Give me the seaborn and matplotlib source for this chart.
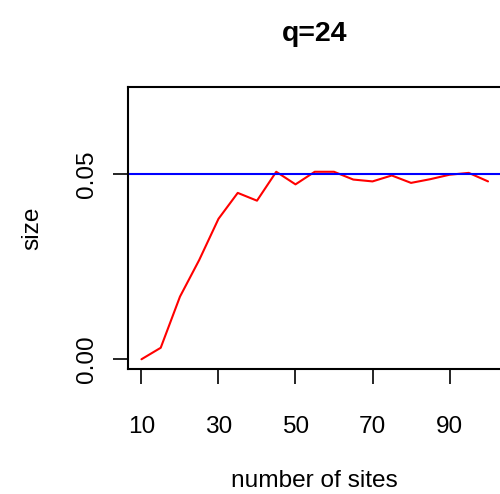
import numpy as np
import pandas as pd
import matplotlib
matplotlib.use("Agg")
import matplotlib.pyplot as plt
import seaborn as sns

# number of sites and the estimated size at q=24
sites = [10, 15, 20, 25, 30, 35, 40, 45, 50, 55, 60, 65, 70, 75, 80, 85, 90, 95, 100]
size = [0.0000, 0.0031, 0.0169, 0.0268, 0.0379, 0.0449, 0.0428, 0.0506, 0.0472, 0.0506,
        0.0506, 0.0485, 0.0480, 0.0496, 0.0476, 0.0486, 0.0498, 0.0503, 0.0480]
nominal = 0.05
x_ticks = [10, 30, 50, 70, 90]
y_ticks = [0.00, 0.05]
y_tick_labels = ["0.00", "0.05"]

df = pd.DataFrame({"sites": sites, "size": size})

sns.set_style("white")
plt.rcParams["font.family"] = ["Liberation Sans", "DejaVu Sans"]
plt.rcParams["text.color"] = "black"
plt.rcParams["axes.labelcolor"] = "black"
plt.rcParams["xtick.color"] = "black"
plt.rcParams["ytick.color"] = "black"

fig = plt.figure(figsize=(5, 4.94), dpi=100)
ax = fig.add_axes([0.2552, 0.254, 0.7486, 0.5693])

sns.lineplot(data=df, x="sites", y="size", color="red", linewidth=1.5, ax=ax)
ax.axhline(nominal, color="blue", linewidth=1.5)

ax.set_xlim(6.4, 103.6)
ax.set_ylim(-0.0025, 0.0734)
ax.set_xticks(x_ticks)
ax.set_yticks(y_ticks)
ax.set_yticklabels(y_tick_labels, rotation=90, va="center")

for s in ax.spines.values():
    s.set_color("black")
    s.set_linewidth(1.5)

ax.tick_params(axis="both", direction="out", length=11, width=1.2, color="black",
               labelcolor="black", labelsize=17.6, pad=23, bottom=True, left=True)
ax.tick_params(axis="y", pad=10)

ax.set_title("q=24", fontsize=20.5, fontweight="bold", pad=33, color="black")
ax.set_xlabel("number of sites", fontsize=17.6, labelpad=23)
ax.set_ylabel("size", fontsize=17.6, labelpad=24)

fig.savefig("out.png", dpi=100)
